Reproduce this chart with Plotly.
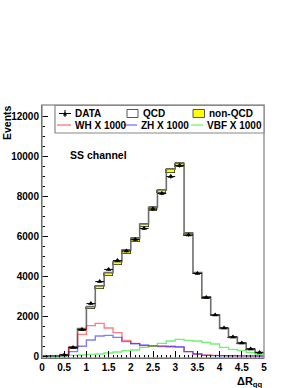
import numpy as np
import plotly.graph_objects as go

# ---- data (bins of width 0.2 from 0 to 5) ----
bin_lo = 0.0
bin_w = 0.2
n_bins = 25
total_mc = [0, 0, 40, 430, 1370, 2470, 3500, 4170, 4720, 5300, 5880, 6600, 7430,
            8300, 9350, 9630, 6130, 4170, 2930, 2050, 1380, 930, 630, 330, 170]
non_qcd = [0, 0, 5, 100, 130, 120, 170, 150, 150, 220, 200, 170, 170,
           170, 220, 200, 130, 80, 60, 40, 30, 20, 15, 10, 5]
data = [None, None, 50, 420, 1330, 2620, 3720, 4330, 4770, 5250, 5820, 6380, 7350,
        8130, 8970, 9520, 6050, 4130, 2930, 2050, 1400, 950, 650, 350, 180]
wh = [0, 0, 80, 430, 1080, 1520, 1630, 1400, 1170, 780, 630, 520, 490,
      470, 450, 430, 220, 100, 50, 30, 20, 10, 5, 3, 2]
zh = [0, 0, 20, 220, 490, 800, 1000, 1030, 930, 720, 610, 550, 520,
      500, 490, 470, 220, 100, 30, 20, 10, 10, 5, 5, 3]
vbf = [0, 0, 10, 30, 50, 80, 100, 150, 200, 270, 300, 430, 500,
       630, 750, 830, 780, 750, 680, 600, 430, 330, 270, 170, 80]

edges = bin_lo + bin_w * np.arange(n_bins + 1)
centers = edges[:-1] + bin_w / 2
qcd = [t - n for t, n in zip(total_mc, non_qcd)]

def steps(vals):
    return list(edges), list(vals) + [vals[-1]]

fig = go.Figure()
fig.add_trace(go.Bar(x=centers, y=qcd, width=bin_w, marker=dict(color='white', line=dict(width=0)),
                     showlegend=False))
fig.add_trace(go.Bar(x=centers, y=non_qcd, width=bin_w,
                     marker=dict(color='#ffff00', line=dict(color='#333333', width=0.8)),
                     showlegend=False))
sx, sy = steps(total_mc)
fig.add_trace(go.Scatter(x=sx, y=sy, mode='lines', line=dict(color='rgb(110,110,110)', width=1.6, shape='hv'),
                         showlegend=False))
for vals, col in [(wh, 'rgba(255,0,0,0.5)'), (zh, 'rgba(0,0,255,0.5)'), (vbf, 'rgba(0,230,0,0.55)')]:
    sx, sy = steps(vals)
    fig.add_trace(go.Scatter(x=sx, y=sy, mode='lines', line=dict(color=col, width=1.4, shape='hv'),
                             showlegend=False))
err = [None if d is None else float(np.sqrt(d)) for d in data]
fig.add_trace(go.Scatter(x=centers, y=data, mode='markers',
                         marker=dict(symbol='triangle-up', size=5, color='black'),
                         error_y=dict(type='data', array=err, color='black', thickness=1, width=0),
                         error_x=dict(type='constant', value=bin_w / 2, color='black', thickness=1, width=0),
                         showlegend=False))

W, H = 300, 388
L, R, T, B = 42, 264, 105, 358

def px(x):
    return (x - L) / (R - L)

def py(y):
    return (B - y) / (B - T)

shapes = []
ann = []
# frame (top/right gray)
shapes.append(dict(type='rect', xref='paper', yref='paper', x0=0, x1=1, y0=0, y1=1,
                   line=dict(color='#999999', width=1.5)))
# legend box
shapes.append(dict(type='rect', xref='paper', yref='paper', x0=px(55), x1=px(264), y0=py(133), y1=py(105.5),
                   line=dict(color='#888888', width=1.2), fillcolor='white', layer='above'))
lf = dict(family='Liberation Sans', size=10, color='black')
# DATA entry
shapes.append(dict(type='line', xref='paper', yref='paper', x0=px(59), x1=px(71), y0=py(113.5), y1=py(113.5),
                   line=dict(color='black', width=1)))
shapes.append(dict(type='line', xref='paper', yref='paper', x0=px(65), x1=px(65), y0=py(110), y1=py(117),
                   line=dict(color='black', width=1)))
shapes.append(dict(type='path', xref='paper', yref='paper', fillcolor='black', line=dict(width=0),
                   path=f"M {px(63)} {py(115.5)} L {px(67)} {py(115.5)} L {px(65)} {py(111.5)} Z"))
ann.append(dict(x=px(73), y=py(113.5), text='<b>DATA</b>'))
# QCD box
shapes.append(dict(type='rect', xref='paper', yref='paper', x0=px(127), x1=px(138), y0=py(117.5), y1=py(109.5),
                   line=dict(color='#555555', width=1), fillcolor='white'))
ann.append(dict(x=px(141), y=py(113.5), text='<b>QCD</b>'))
# non-QCD box
shapes.append(dict(type='rect', xref='paper', yref='paper', x0=px(193), x1=px(204.5), y0=py(117.5), y1=py(109.5),
                   line=dict(color='#555555', width=1), fillcolor='#ffff00'))
ann.append(dict(x=px(207), y=py(113.5), text='<b>non-QCD</b>'))
# signal entries
for x0, x1, tx, col, lab in [(57, 71, 72.5, 'rgba(255,0,0,0.35)', 'WH X 1000'),
                             (124, 137, 139, 'rgba(0,0,255,0.35)', 'ZH X 1000'),
                             (191, 203, 205, 'rgba(0,230,0,0.35)', 'VBF X 1000')]:
    shapes.append(dict(type='line', xref='paper', yref='paper', x0=px(x0), x1=px(x1), y0=py(125), y1=py(125),
                       line=dict(color=col, width=2)))
    ann.append(dict(x=px(tx), y=py(125), text=f'<b>{lab}</b>'))
for a in ann:
    a.update(xref='paper', yref='paper', xanchor='left', yanchor='middle', showarrow=False, font=lf)

ann.append(dict(x=px(68), y=py(155), xref='paper', yref='paper', xanchor='left', yanchor='middle',
                text='<b>SS channel</b>', showarrow=False,
                font=dict(family='Liberation Sans', size=10.5, color='black')))
ann.append(dict(x=px(264.5), y=py(373), xref='paper', yref='paper', xanchor='right', yanchor='top',
                text='<b>ΔR<sub>qq</sub></b>', showarrow=False,
                font=dict(family='Liberation Sans', size=11, color='black')))
ann.append(dict(x=px(6.5), y=py(103), xref='paper', yref='paper', xanchor='center', yanchor='top',
                text='<b>Events</b>', showarrow=False, textangle=-90,
                font=dict(family='Liberation Sans', size=10.5, color='black')))

tf = dict(family='Liberation Sans', size=10, color='black', weight='bold')
fig.update_layout(
    width=W, height=H, margin=dict(l=L, r=W - R, t=T, b=H - B, autoexpand=False),
    paper_bgcolor='white', plot_bgcolor='white', barmode='stack', bargap=0,
    shapes=shapes, annotations=ann, showlegend=False,
    xaxis=dict(range=[0, 5], tickmode='array', tickvals=[0, 0.5, 1, 1.5, 2, 2.5, 3, 3.5, 4, 4.5, 5],
               ticktext=['0', '0.5', '1', '1.5', '2', '2.5', '3', '3.5', '4', '4.5', '5'],
               ticks='inside', ticklen=7, tickcolor='black', showgrid=False, zeroline=False,
               showline=True, linecolor='black', linewidth=1, tickfont=tf, automargin=False,
               minor=dict(dtick=0.1, tick0=0, ticks='inside', ticklen=3.5, tickcolor='black', showgrid=False)),
    yaxis=dict(range=[-100, 12550], tickmode='array', tickvals=[0, 2000, 4000, 6000, 8000, 10000, 12000],
               ticktext=['0', '2000', '4000', '6000', '8000', '10000', '12000'],
               ticks='inside', ticklen=6, tickcolor='black', showgrid=False, zeroline=False,
               showline=True, linecolor='black', linewidth=1, tickfont=tf, automargin=False,
               minor=dict(dtick=500, tick0=0, ticks='inside', ticklen=3, tickcolor='black', showgrid=False)),
)
fig.write_html('out.html', config={'displayModeBar': False},
               post_script="document.body.style.margin='0';document.body.style.overflow='hidden';")
